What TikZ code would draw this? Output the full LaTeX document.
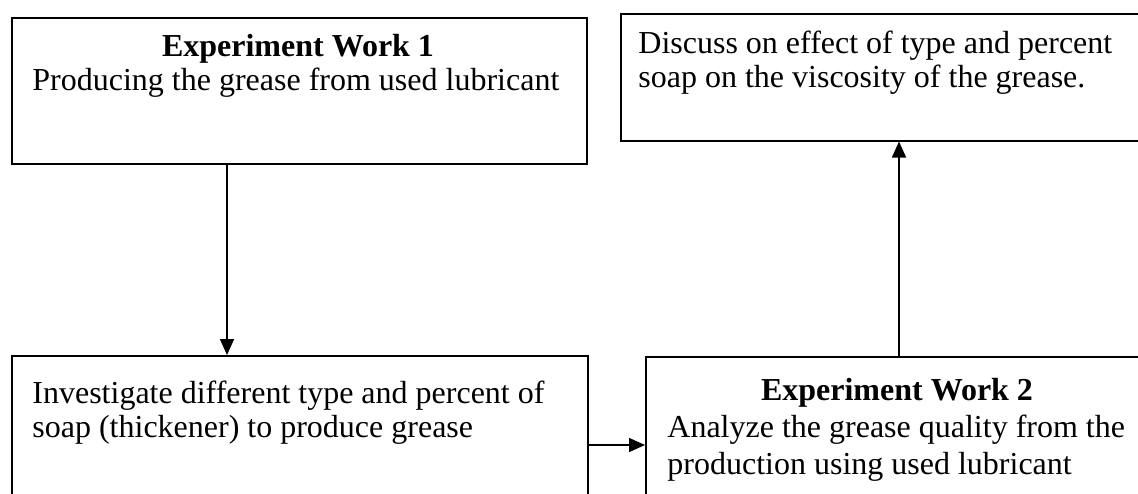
\documentclass[tikz,border=0pt]{standalone}
\usepackage{fontspec}
\setmainfont{Liberation Serif}
\usetikzlibrary{arrows.meta}
\begin{document}
\begin{tikzpicture}[x=0.5pt,y=-0.5pt,
  box/.style={draw,line width=0.75pt,inner sep=0pt,anchor=north west},
  txt/.style={inner sep=0pt,font=\fontsize{16pt}{18pt}\selectfont},
  ttl/.style={inner sep=0pt,font=\fontsize{16pt}{18pt}\selectfont\bfseries},
  conn/.style={line width=0.75pt,-{Triangle[length=8pt,width=7pt]}}]
\useasboundingbox (0,0) rectangle (1138,493);
\clip (0,0) rectangle (1138,493);
% boxes
\node[box,minimum width=287.5pt,minimum height=73pt] (b1) at (11,17) {};
\node[box,minimum width=270pt,minimum height=63.5pt] (b2) at (620,13) {};
\node[box,minimum width=288pt,minimum height=82.5pt] (b3) at (11,355) {};
\node[box,minimum width=252.5pt,minimum height=82pt] (b4) at (645,356) {};
% texts
\node[ttl,anchor=base] (t1a) at (298,56) {Experiment Work 1};
\node[txt,anchor=base west] (t1b) at (32,90) {Producing the grease from used lubricant};
\node[txt,anchor=base west] (t2a) at (638,53) {Discuss on effect of type and percent};
\node[txt,anchor=base west] (t2b) at (638,87) {soap on the viscosity of the grease.};
\node[txt,anchor=base west] (t3a) at (32,403) {Investigate different type and percent of};
\node[txt,anchor=base west] (t3b) at (32,437) {soap (thickener) to produce grease};
\node[ttl,anchor=base] (t4a) at (897,400) {Experiment Work 2};
\node[txt,anchor=base west] (t4b) at (667,437) {Analyze the grease quality from the};
\node[txt,anchor=base west] (t4c) at (667,474) {production using used lubricant};
% connectors
\draw[conn] (b1.south -| 227,0) -- (b3.north -| 227,0);
\draw[conn] (b3.east |- 0,445) -- (b4.west |- 0,445);
\draw[conn] (b4.north -| 899,0) -- (b2.south -| 899,0);
\end{tikzpicture}
\end{document}
